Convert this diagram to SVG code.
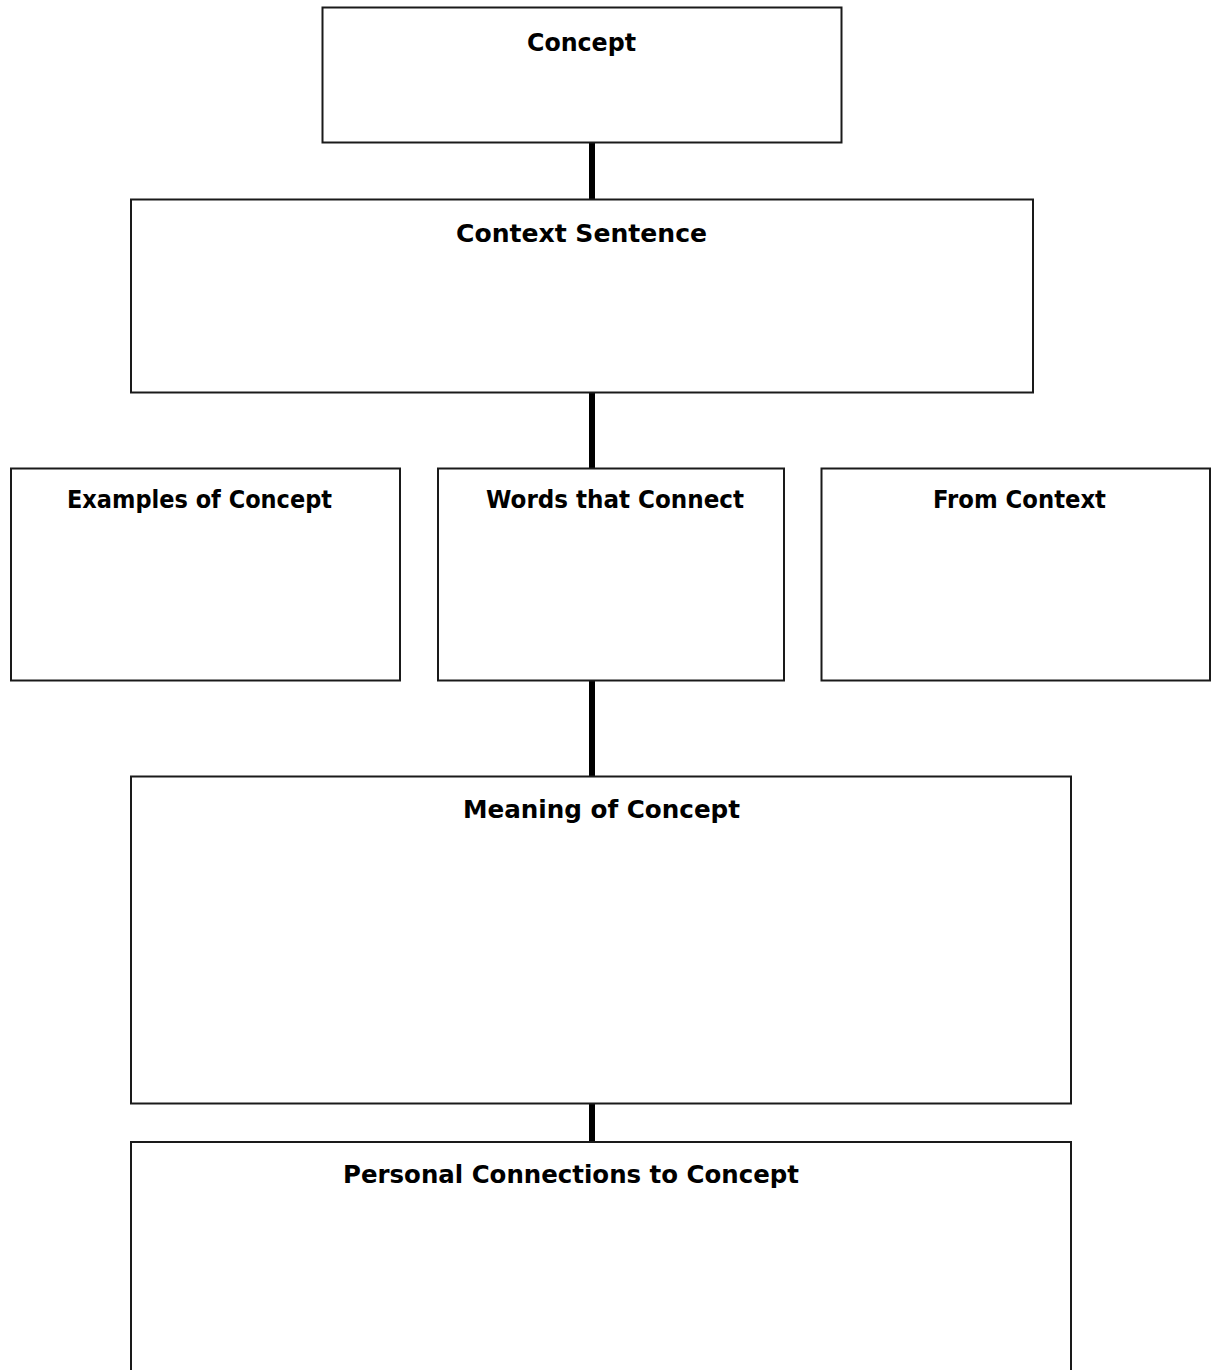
<svg xmlns="http://www.w3.org/2000/svg" width="1211" height="1370" viewBox="0 0 1211 1370">
<style>
.box{fill:#fff;stroke:#1a1a1a;stroke-width:2}
.lbl{font-family:"DejaVu Sans","Liberation Sans",sans-serif;font-weight:bold;font-size:24px;fill:#000}
.conn{stroke:#000;stroke-width:6;fill:none}
</style>
<rect width="1211" height="1370" fill="#fff"/>
<g id="connectors">
<line class="conn" x1="592" y1="142" x2="592" y2="199"/>
<line class="conn" x1="592" y1="392" x2="592" y2="468"/>
<line class="conn" x1="592" y1="681" x2="592" y2="776"/>
<line class="conn" x1="592" y1="1104" x2="592" y2="1142"/>
</g>
<g id="concept">
<rect class="box" x="322.5" y="7.5" width="519" height="135"/>
<text class="lbl" x="527" y="51" textLength="109" lengthAdjust="spacingAndGlyphs">Concept</text>
</g>
<g id="context-sentence">
<rect class="box" x="131" y="199.5" width="902" height="193"/>
<text class="lbl" x="456" y="242" textLength="251" lengthAdjust="spacingAndGlyphs">Context Sentence</text>
</g>
<g id="examples">
<rect class="box" x="11" y="468.5" width="389" height="212"/>
<text class="lbl" x="67" y="508" textLength="265" lengthAdjust="spacingAndGlyphs">Examples of Concept</text>
</g>
<g id="words-connect">
<rect class="box" x="438" y="468.5" width="346" height="212"/>
<text class="lbl" x="486" y="508" textLength="258" lengthAdjust="spacingAndGlyphs">Words that Connect</text>
</g>
<g id="from-context">
<rect class="box" x="821.5" y="468.5" width="388.5" height="212"/>
<text class="lbl" x="933" y="508" textLength="173" lengthAdjust="spacingAndGlyphs">From Context</text>
</g>
<g id="meaning">
<rect class="box" x="131" y="776.5" width="940" height="327"/>
<text class="lbl" x="463" y="818" textLength="277" lengthAdjust="spacingAndGlyphs">Meaning of Concept</text>
</g>
<g id="personal">
<rect class="box" x="131" y="1142" width="940" height="240"/>
<text class="lbl" x="343" y="1183" textLength="456" lengthAdjust="spacingAndGlyphs">Personal Connections to Concept</text>
</g>
</svg>
